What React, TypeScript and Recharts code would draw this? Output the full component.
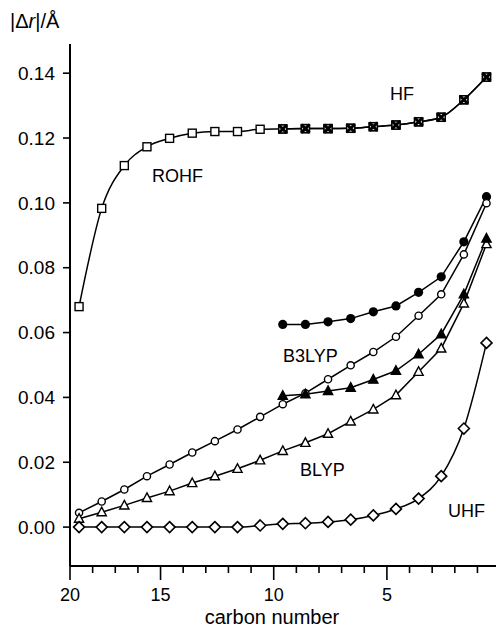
import { LineChart, Line, XAxis, YAxis } from 'recharts';

// carbon position of each point (axis runs right to left)
const carbon = [18.6, 17.6, 16.6, 15.6, 14.6, 13.6, 12.6, 11.6, 10.6, 9.6, 8.6, 7.6, 6.6, 5.6, 4.6, 3.6, 2.6, 1.6, 0.6];

const rohf = [0.068, 0.0983, 0.1115, 0.1173, 0.1199, 0.1215, 0.122, 0.122, 0.1227, 0.1228, 0.1229, 0.1229, 0.123, 0.1235, 0.124, 0.125, 0.1264, 0.1318, 0.1388];
const hf = [null, null, null, null, null, null, null, null, null, 0.1228, 0.1229, 0.1229, 0.123, 0.1235, 0.124, 0.125, 0.1264, 0.1318, 0.1388];
const b3lypFilled = [null, null, null, null, null, null, null, null, null, 0.0625, 0.0625, 0.0633, 0.0643, 0.0664, 0.0682, 0.0724, 0.0772, 0.088, 0.1019];
const b3lypOpen = [0.0044, 0.0079, 0.0116, 0.0157, 0.0193, 0.023, 0.0265, 0.0301, 0.034, 0.0379, 0.0413, 0.0456, 0.0499, 0.054, 0.0587, 0.0652, 0.0718, 0.0841, 0.0999];
const blypFilled = [null, null, null, null, null, null, null, null, null, 0.0405, 0.041, 0.042, 0.043, 0.0455, 0.0482, 0.0533, 0.0595, 0.0718, 0.089];
const blypOpen = [0.0026, 0.0046, 0.0067, 0.009, 0.0111, 0.0136, 0.0157, 0.018, 0.0206, 0.0235, 0.026, 0.0288, 0.0326, 0.0363, 0.0407, 0.0479, 0.0551, 0.069, 0.0873];
const uhf = [0, 0, 0, 0, 0, 0, 0, 0, 0.0005, 0.001, 0.0012, 0.0016, 0.0023, 0.0036, 0.0056, 0.0088, 0.0157, 0.0304, 0.0568];

const xTicks = [19, 18, 17, 16, 15, 14, 13, 12, 11, 10, 9, 8, 7, 6, 5, 4, 3, 2, 1];
const majorTicks = [19, 15, 10, 5];
const majorLabels = ['20', '15', '10', '5'];
const yTicks = [0, 0.02, 0.04, 0.06, 0.08, 0.1, 0.12, 0.14];

const data = carbon.map((x, i) => ({
  x,
  rohf: rohf[i],
  hf: hf[i],
  b3lypFilled: b3lypFilled[i],
  b3lypOpen: b3lypOpen[i],
  blypFilled: blypFilled[i],
  blypOpen: blypOpen[i],
  uhf: uhf[i],
}));

const FONT = '"Liberation Sans", Arial, Helvetica, sans-serif';

type DotProps = { cx?: number; cy?: number; index?: number };

const ok = (p: DotProps) => p.cx != null && p.cy != null && !Number.isNaN(p.cy);

const openSquare = (p: DotProps) =>
  ok(p) ? (
    <rect key={p.index} x={p.cx! - 4} y={p.cy! - 4} width={8} height={8} fill="#fff" stroke="#000" strokeWidth={1.4} />
  ) : (
    <g key={p.index} />
  );

const crossSquare = (p: DotProps) =>
  ok(p) ? (
    <g key={p.index}>
      <rect x={p.cx! - 4} y={p.cy! - 4} width={8} height={8} fill="#fff" stroke="#000" strokeWidth={1.5} />
      <path d={`M${p.cx! - 4},${p.cy! - 4}L${p.cx! + 4},${p.cy! + 4}M${p.cx! + 4},${p.cy! - 4}L${p.cx! - 4},${p.cy! + 4}`} stroke="#000" strokeWidth={3} />
    </g>
  ) : (
    <g key={p.index} />
  );

const filledCircle = (p: DotProps) =>
  ok(p) ? <circle key={p.index} cx={p.cx} cy={p.cy} r={4.6} fill="#000" /> : <g key={p.index} />;

const openCircle = (p: DotProps) =>
  ok(p) ? (
    <circle key={p.index} cx={p.cx} cy={p.cy} r={3.6} fill="#fff" stroke="#000" strokeWidth={1.4} />
  ) : (
    <g key={p.index} />
  );

const triangle = (filled: boolean) => (p: DotProps) =>
  ok(p) ? (
    <path
      key={p.index}
      d={`M${p.cx},${p.cy! - 5}L${p.cx! + 4.6},${p.cy! + 3.6}L${p.cx! - 4.6},${p.cy! + 3.6}Z`}
      fill={filled ? '#000' : '#fff'}
      stroke="#000"
      strokeWidth={1.4}
    />
  ) : (
    <g key={p.index} />
  );

const diamond = (p: DotProps) =>
  ok(p) ? (
    <path
      key={p.index}
      d={`M${p.cx},${p.cy! - 5.5}L${p.cx! + 5.5},${p.cy}L${p.cx},${p.cy! + 5.5}L${p.cx! - 5.5},${p.cy}Z`}
      fill="#fff"
      stroke="#000"
      strokeWidth={1.6}
    />
  ) : (
    <g key={p.index} />
  );

const XTick = (props: any) => {
  const { x, y, payload } = props;
  const k = majorTicks.indexOf(payload.value);
  const major = k >= 0;
  return (
    <g>
      <line x1={x} y1={y} x2={x} y2={y + (major ? 14 : 7)} stroke="#000" strokeWidth={1.6} />
      {major && (
        <text x={x} y={y + 35} textAnchor="middle" fontSize={18} fontFamily={FONT} fill="#000">
          {majorLabels[k]}
        </text>
      )}
    </g>
  );
};

export default function App() {
  return (
    <div style={{ position: 'absolute', left: 0, top: 0, width: 496, height: 628, background: '#fff' }}>
      <LineChart width={496} height={628} data={data} margin={{ top: 44, right: 0, left: 0, bottom: 22 }}>
        <XAxis
          dataKey="x"
          type="number"
          domain={[0.18, 19]}
          reversed
          allowDataOverflow
          ticks={xTicks}
          interval={0}
          height={40}
          tickSize={0}
          tickMargin={0}
          tickLine={false}
          tick={<XTick />}
          axisLine={{ stroke: '#000', strokeWidth: 2 }}
        />
        <XAxis
          xAxisId="top"
          orientation="top"
          dataKey="x"
          type="number"
          domain={[0.18, 19]}
          reversed
          height={0}
          tick={false}
          tickLine={false}
          axisLine={{ stroke: '#000', strokeWidth: 2 }}
        />
        <YAxis
          type="number"
          domain={[-0.012, 0.149]}
          allowDataOverflow
          ticks={yTicks}
          width={70}
          tickSize={7}
          tickMargin={8}
          tickFormatter={(v: number) => v.toFixed(2)}
          tick={{ fontSize: 19, fontFamily: FONT, fill: '#000' }}
          tickLine={{ stroke: '#000', strokeWidth: 1.6 }}
          axisLine={{ stroke: '#000', strokeWidth: 2 }}
        />
        <Line dataKey="rohf" type="monotone" stroke="#000" strokeWidth={1.5} dot={openSquare} isAnimationActive={false} />
        <Line dataKey="hf" type="monotone" stroke="#000" strokeWidth={1.5} dot={crossSquare} isAnimationActive={false} />
        <Line dataKey="b3lypFilled" type="linear" stroke="#000" strokeWidth={1.5} dot={filledCircle} isAnimationActive={false} />
        <Line dataKey="b3lypOpen" type="linear" stroke="#000" strokeWidth={1.5} dot={openCircle} isAnimationActive={false} />
        <Line dataKey="blypOpen" type="linear" stroke="#000" strokeWidth={1.5} dot={triangle(false)} isAnimationActive={false} />
        <Line dataKey="blypFilled" type="linear" stroke="#000" strokeWidth={1.5} dot={triangle(true)} isAnimationActive={false} />
        <Line dataKey="uhf" type="monotone" stroke="#000" strokeWidth={1.5} dot={diamond} isAnimationActive={false} />
      </LineChart>
      <svg width={496} height={628} style={{ position: 'absolute', left: 0, top: 0, pointerEvents: 'none' }} fontFamily={FONT} fill="#000">
        <text x={10} y={28} fontSize={20}>
          |Δ<tspan fontStyle="italic">r</tspan>|/Å
        </text>
        <text x={152} y={182} fontSize={18}>ROHF</text>
        <text x={390} y={100} fontSize={18}>HF</text>
        <text x={283} y={362} fontSize={18}>B3LYP</text>
        <text x={300} y={476} fontSize={18}>BLYP</text>
        <text x={448} y={517} fontSize={18}>UHF</text>
        <text x={272} y={624} fontSize={20} textAnchor="middle">carbon number</text>
      </svg>
    </div>
  );
}
